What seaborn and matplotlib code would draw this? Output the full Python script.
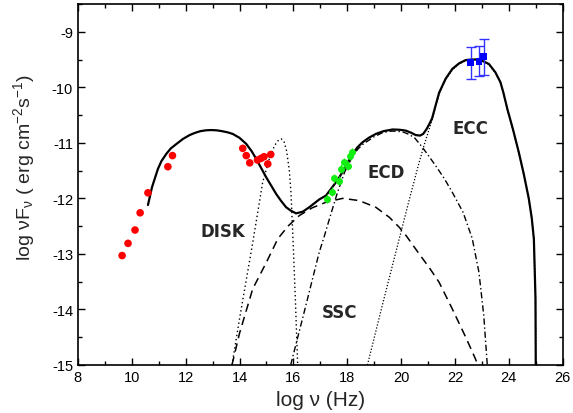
import matplotlib
matplotlib.use('Agg')
import matplotlib.pyplot as plt
import seaborn as sns
from matplotlib.ticker import MultipleLocator

# total model (solid)
total_x = [10.60, 10.75, 10.97, 11.10, 11.28, 11.45, 11.66, 11.90, 12.15, 12.35, 12.55, 12.75, 12.95,
           13.15, 13.35, 13.55, 13.75, 14.00, 14.25, 14.45, 14.62, 14.80, 14.99, 15.20, 15.36, 15.55,
           15.73, 15.90, 16.10, 16.35, 16.59, 16.96, 17.21, 17.35, 17.52, 17.68, 17.83, 18.00, 18.20,
           18.38, 18.57, 18.80, 19.06, 19.35, 19.68, 19.95, 20.17, 20.38, 20.54, 20.70, 20.82, 20.95,
           21.05, 21.15, 21.41, 21.65, 21.90, 22.15, 22.40, 22.60, 22.77, 23.00, 23.26, 23.50, 23.69,
           23.80, 23.95, 24.15, 24.37, 24.55, 24.74, 24.85, 24.93, 24.99, 25.00]
total_y = [-12.12, -11.80, -11.47, -11.33, -11.20, -11.10, -11.02, -10.93, -10.86, -10.82, -10.79, -10.775, -10.77,
           -10.775, -10.79, -10.81, -10.84, -10.91, -11.02, -11.15, -11.29, -11.45, -11.62, -11.79, -11.92, -12.05,
           -12.16, -12.22, -12.27, -12.24, -12.16, -12.02, -11.95, -11.86, -11.75, -11.64, -11.52, -11.37, -11.20,
           -11.08, -10.99, -10.91, -10.84, -10.79, -10.76, -10.765, -10.78, -10.82, -10.86, -10.87, -10.84, -10.75,
           -10.66, -10.56, -10.10, -9.85, -9.67, -9.57, -9.51, -9.50, -9.50, -9.52, -9.58, -9.73, -9.91,
           -10.10, -10.40, -10.75, -11.17, -11.55, -12.00, -12.35, -12.73, -13.80, -15.00]

# components
disk_x = [13.72, 14.00, 14.49, 14.86, 15.10, 15.30, 15.45, 15.55, 15.65, 15.75, 15.85, 15.91, 16.00, 16.08, 16.16]
disk_y = [-15.0, -14.17, -12.80, -11.71, -11.30, -11.05, -10.95, -10.93, -10.97, -11.15, -11.50, -11.89, -12.90, -13.90, -15.0]

ssc_x = [13.72, 14.00, 14.49, 15.00, 15.42, 15.80, 16.22, 16.70, 17.21, 17.83, 18.44, 19.06, 19.56, 19.93,
         20.20, 20.67, 21.05, 21.41, 21.90, 22.40, 22.76, 22.85]
ssc_y = [-15.0, -14.43, -13.63, -13.15, -12.73, -12.50, -12.31, -12.17, -12.07, -12.00, -12.04, -12.16, -12.34, -12.52,
         -12.68, -13.00, -13.25, -13.51, -13.99, -14.50, -14.89, -15.0]

ecd_x = [15.90, 16.40, 16.96, 17.15, 17.40, 17.64, 17.90, 18.20, 18.40, 18.60, 19.00, 19.30, 19.60, 19.85,
         20.10, 20.30, 20.50, 20.79, 21.00, 21.28, 21.60, 21.90, 22.30, 22.64, 22.89, 23.07, 23.20]
ecd_y = [-15.0, -14.05, -12.97, -12.68, -12.27, -11.89, -11.53, -11.24, -11.11, -11.02, -10.89, -10.82, -10.79, -10.79,
         -10.81, -10.85, -10.91, -11.08, -11.22, -11.41, -11.64, -11.89, -12.25, -12.72, -13.33, -14.11, -15.0]

ecc_x = [18.75, 19.30, 19.93, 20.30, 20.67, 20.85, 21.16, 21.41, 21.65, 21.90, 22.15, 22.40, 22.60, 22.77,
         23.00, 23.26, 23.50, 23.69, 23.80, 23.95, 24.15, 24.37, 24.55, 24.74, 24.85, 24.93, 24.99, 25.00]
ecc_y = [-15.0, -13.93, -12.73, -12.03, -11.35, -11.05, -10.57, -10.12, -9.86, -9.69, -9.58, -9.52, -9.51, -9.51,
         -9.53, -9.59, -9.74, -9.92, -10.11, -10.41, -10.76, -11.18, -11.56, -12.01, -12.36, -12.74, -13.80, -15.0]

# observations
red_x = [9.64, 9.86, 10.12, 10.31, 10.60, 11.34, 11.51, 14.12, 14.25, 14.38, 14.67, 14.80, 14.91, 15.05, 15.16]
red_y = [-13.03, -12.81, -12.57, -12.26, -11.90, -11.43, -11.23, -11.10, -11.23, -11.36, -11.31, -11.28, -11.25, -11.38, -11.21]

green_x = [17.23, 17.43, 17.52, 17.68, 17.77, 17.89, 18.01, 18.10, 18.17]
green_y = [-12.01, -11.88, -11.64, -11.68, -11.47, -11.35, -11.41, -11.23, -11.17]
green_err = [0.08, 0.08, 0.08, 0.08, 0.08, 0.08, 0.08, 0.08, 0.08]

blue_x = [22.58, 22.89, 23.07]
blue_y = [-9.56, -9.53, -9.44]
blue_lo = [0.29, 0.27, 0.33]
blue_hi = [0.29, 0.27, 0.31]

sns.set_style('ticks')
plt.rcParams['font.family'] = ['Liberation Sans', 'DejaVu Sans']
plt.rcParams['axes.unicode_minus'] = False
plt.rcParams['mathtext.fontset'] = 'custom'
plt.rcParams['mathtext.rm'] = 'Liberation Sans'
plt.rcParams['mathtext.it'] = 'Liberation Sans:italic'

fig = plt.figure(figsize=(5.73, 4.14), dpi=100)
ax = fig.add_axes([0.136, 0.116, 0.846, 0.872])

sns.lineplot(x=disk_x, y=disk_y, ax=ax, color='black', lw=1.0, linestyle=(0, (1, 2)), sort=False, estimator=None)
sns.lineplot(x=ssc_x, y=ssc_y, ax=ax, color='black', lw=1.1, linestyle=(0, (5.5, 3.5)), sort=False, estimator=None)
sns.lineplot(x=ecd_x, y=ecd_y, ax=ax, color='black', lw=1.0, linestyle=(0, (4.5, 2, 1, 2)), sort=False, estimator=None)
sns.lineplot(x=ecc_x, y=ecc_y, ax=ax, color='black', lw=0.9, linestyle=(0, (1, 1.5)), sort=False, estimator=None)
sns.lineplot(x=total_x, y=total_y, ax=ax, color='black', lw=1.6, sort=False, estimator=None)

sns.scatterplot(x=red_x, y=red_y, ax=ax, color='#ff0000', s=30, edgecolor='none', zorder=5)
ax.errorbar(green_x, green_y, yerr=green_err, fmt='o', color='#11ee11', ms=4, lw=0.8, zorder=5)
ax.errorbar(blue_x, blue_y, yerr=[blue_lo, blue_hi], fmt='none', ecolor='#3333ff', lw=1.0, capsize=3.5, zorder=5)
sns.scatterplot(x=blue_x, y=blue_y, ax=ax, color='#0000ff', marker='s', s=24, edgecolor='none', zorder=6)

ax.text(13.38, -12.58, 'DISK', ha='center', va='center', fontsize=12, fontweight='bold', family='DejaVu Sans')
ax.text(19.43, -11.52, 'ECD', ha='center', va='center', fontsize=12, fontweight='bold', family='DejaVu Sans')
ax.text(22.58, -10.74, 'ECC', ha='center', va='center', fontsize=12, fontweight='bold', family='DejaVu Sans')
ax.text(17.7, -14.05, 'SSC', ha='center', va='center', fontsize=12, fontweight='bold', family='DejaVu Sans')

ax.set_xlim(8, 26)
ax.set_ylim(-15, -8.5)
ax.xaxis.set_major_locator(MultipleLocator(2))
ax.xaxis.set_minor_locator(MultipleLocator(1))
ax.yaxis.set_major_locator(MultipleLocator(1))
ax.yaxis.set_minor_locator(MultipleLocator(0.5))
ax.tick_params(which='both', direction='in', top=True, right=True, width=1.0, labelsize=10.5, colors='black')
ax.tick_params(which='major', length=5)
ax.tick_params(which='minor', length=3)
for sp in ax.spines.values():
    sp.set_linewidth(1.2)
    sp.set_color('black')

ax.set_xlabel('log ν (Hz)', fontsize=15)
ax.set_ylabel(r'log νF$_\mathregular{ν}$ ( erg cm$^\mathregular{-2}$s$^\mathregular{-1}$)', fontsize=14)
ax.xaxis.set_label_coords(0.5, -0.068)
ax.yaxis.set_label_coords(-0.085, 0.55)

fig.savefig('out.png', dpi=100)
